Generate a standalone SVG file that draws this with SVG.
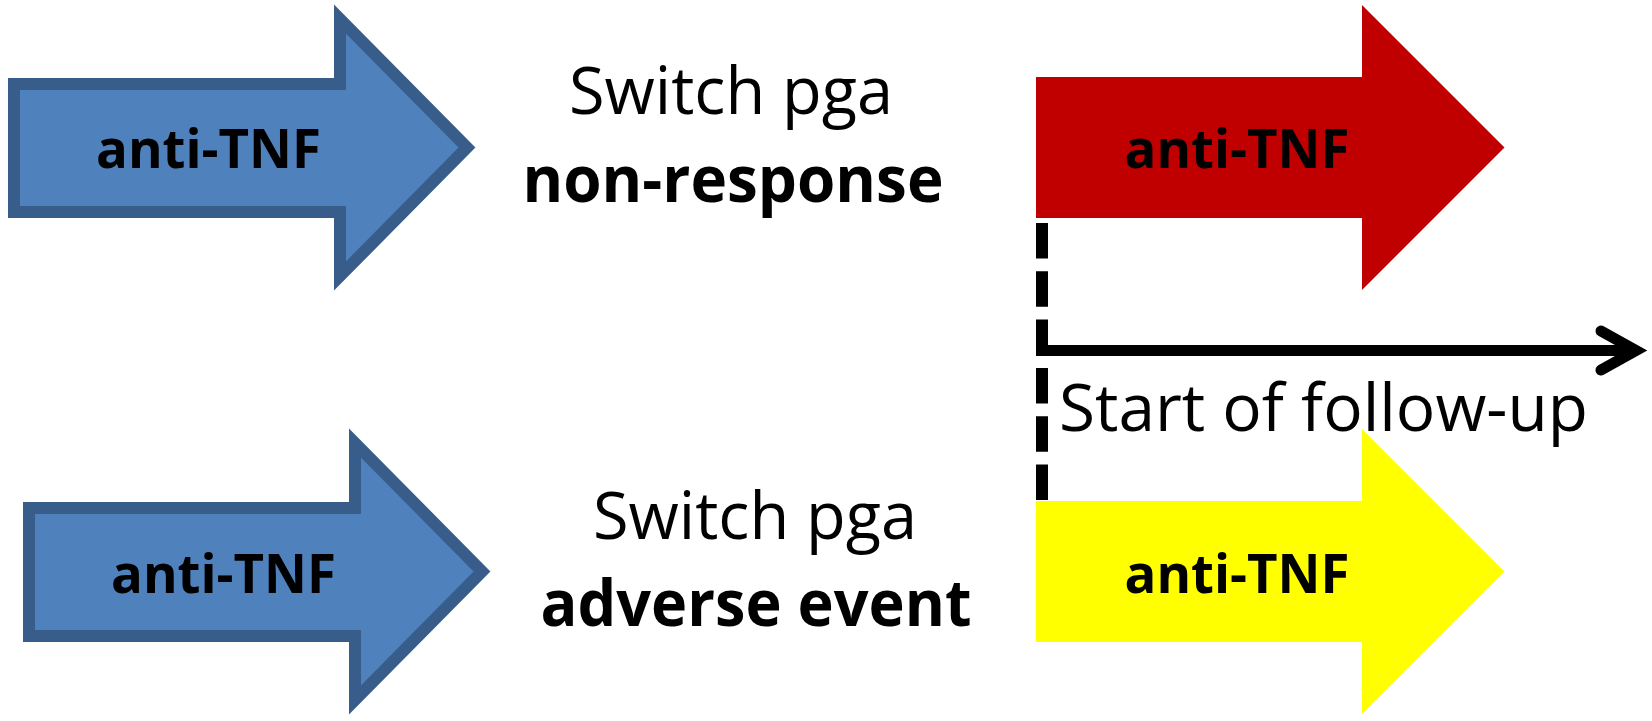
<svg xmlns="http://www.w3.org/2000/svg" width="1652" height="721" viewBox="0 0 1652 721">
  <defs>
    <!-- block arrow outline used by all four therapy arrows -->
    <path id="blockArrowOutlined" d="M14,84 L340,84 L340,19 L467,147.5 L340,276 L340,212 L14,212 Z"/>
    <path id="blockArrowPlain" d="M1036,77 L1362,77 L1362,5 L1504.5,147.5 L1362,290 L1362,218 L1036,218 Z"/>
  </defs>
  <style>
    .blue { fill: #4F81BD; stroke: #385D8A; stroke-width: 12; stroke-linejoin: miter; }
    .red { fill: #C00000; }
    .yellow { fill: #FFFF00; }
    .label { font-family: "Open Sans", "Liberation Sans", sans-serif; font-size: 65px; fill: #000; text-anchor: middle; }
    .bold { font-weight: bold; }
    .arrowLabel { font-family: "Open Sans", "Liberation Sans", sans-serif; font-size: 53px; font-weight: bold; fill: #000; text-anchor: middle; }
    .axis { fill: none; stroke: #000; stroke-width: 11; }
    .dash { fill: none; stroke: #000; stroke-width: 12; stroke-dasharray: 35.5 12.8; }
  </style>
  <rect width="1652" height="721" fill="#FFFFFF"/>

  <!-- connectors: start-of-follow-up marker and time axis -->
  <g id="connectors">
    <line class="dash" x1="1042" y1="223" x2="1042" y2="500"/>
    <line class="axis" x1="1036" y1="350.5" x2="1636" y2="350.5"/>
    <path class="axis" d="M1601,331 L1636,350.5 L1601,370" stroke-linecap="round" stroke-linejoin="miter"/>
  </g>

  <g id="prior-antitnf-nonresponse">
    <use href="#blockArrowOutlined" class="blue"/>
    <text class="arrowLabel" x="208.5" y="168" textLength="225" lengthAdjust="spacingAndGlyphs">anti-TNF</text>
  </g>

  <g id="switch-nonresponse">
    <text class="label" x="731" y="114" textLength="324" lengthAdjust="spacingAndGlyphs">Switch pga</text>
    <text class="label bold" x="733" y="202" textLength="421" lengthAdjust="spacingAndGlyphs">non-response</text>
  </g>

  <g id="next-antitnf-nonresponse">
    <use href="#blockArrowPlain" class="red"/>
    <text class="arrowLabel" x="1237" y="168" textLength="225" lengthAdjust="spacingAndGlyphs">anti-TNF</text>
  </g>

  <g id="follow-up-label">
    <text class="label" x="1059" y="431" style="text-anchor: start" textLength="529" lengthAdjust="spacingAndGlyphs">Start of follow-up</text>
  </g>

  <g id="prior-antitnf-adverse">
    <use href="#blockArrowOutlined" class="blue" transform="translate(15,424)"/>
    <text class="arrowLabel" x="223.5" y="593" textLength="225" lengthAdjust="spacingAndGlyphs">anti-TNF</text>
  </g>

  <g id="switch-adverse">
    <text class="label" x="755" y="539" textLength="324" lengthAdjust="spacingAndGlyphs">Switch pga</text>
    <text class="label bold" x="756" y="626" textLength="431" lengthAdjust="spacingAndGlyphs">adverse event</text>
  </g>

  <g id="next-antitnf-adverse">
    <use href="#blockArrowPlain" class="yellow" transform="translate(0,424)"/>
    <text class="arrowLabel" x="1237" y="593" textLength="225" lengthAdjust="spacingAndGlyphs">anti-TNF</text>
  </g>
</svg>
